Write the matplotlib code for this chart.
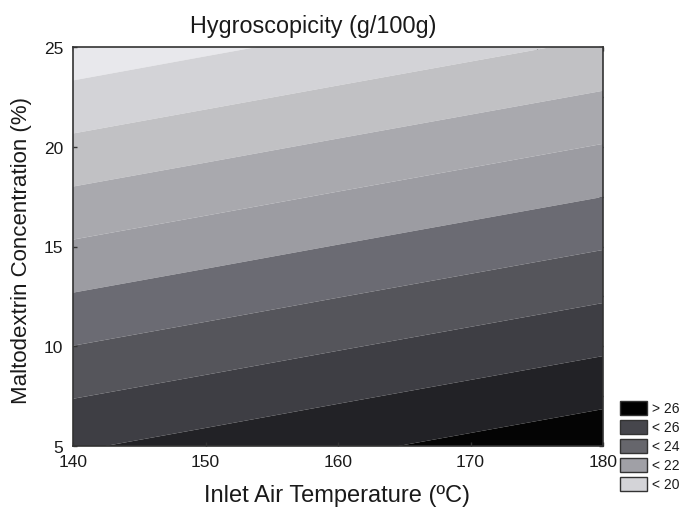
import matplotlib
matplotlib.use("Agg")
import matplotlib.pyplot as plt
from matplotlib.patches import Rectangle
from matplotlib.ticker import MultipleLocator
import numpy as np

plt.rcParams['font.family'] = ['Liberation Sans', 'DejaVu Sans']

# Inlet air temperature (ºC) grid and maltodextrin concentration (%) grid
temperature = [140, 150, 160, 170, 180]
maltodextrin = [5, 10, 15, 20, 25]
# Hygroscopicity (g/100g), rows = maltodextrin, cols = temperature
hyg_m5 = [23.78, 24.68, 25.59, 26.49, 27.39]
hyg_m10 = [20.02, 20.92, 21.83, 22.73, 23.63]
hyg_m15 = [16.26, 17.16, 18.07, 18.97, 19.87]
hyg_m20 = [12.50, 13.40, 14.31, 15.21, 16.11]
hyg_m25 = [8.74, 9.65, 10.55, 11.45, 12.35]

levels = [0, 10, 12, 14, 16, 18, 20, 22, 24, 26, 40]
band_colors = ['#e8e8ec', '#d3d3d7', '#c1c1c4', '#a9a9ae', '#9c9ca2',
               '#6b6b73', '#55555b', '#3e3e44', '#222226', '#040404']

legend_labels = ['> 26', '< 26', '< 24', '< 22', '< 20']
legend_colors = ['#000000', '#46464c', '#66666c', '#a0a0a6', '#d4d4d8']

Z = np.array([hyg_m5, hyg_m10, hyg_m15, hyg_m20, hyg_m25])
X, Y = np.meshgrid(temperature, maltodextrin)

fig = plt.figure(figsize=(6.81, 5.10), dpi=100)
ax = fig.add_axes([73/681, 1 - 447/510, 530/681, 399/510])
ax.contourf(X, Y, Z, levels=levels, colors=band_colors, antialiased=True)
ax.set_xlim(140, 180)
ax.set_ylim(5, 25)

for s in ax.spines.values():
    s.set_color('#333333')
    s.set_linewidth(1.2)

ax.xaxis.set_major_locator(MultipleLocator(10))
ax.yaxis.set_major_locator(MultipleLocator(5))
ax.tick_params(which='both', direction='in', length=3, width=1, color='#333333',
               labelsize=12.5, labelcolor='#1a1a1a')
ax.tick_params(axis='x', pad=6)
ax.tick_params(axis='y', pad=7)
ax.tick_params(top=False, right=False)
# secondary axes for the top / right tick marks (major + minor)
axt = ax.secondary_xaxis('top')
axt.xaxis.set_major_locator(MultipleLocator(5))
axt.tick_params(direction='in', length=3, width=1, color='#333333', labeltop=False)
axr = ax.secondary_yaxis('right')
axr.yaxis.set_major_locator(MultipleLocator(2.5))
axr.tick_params(direction='in', length=3, width=1, color='#333333', labelright=False)
for a in (axt, axr):
    for s in a.spines.values():
        s.set_visible(False)

fig.text(313/681, 1 - 26/510, 'Hygroscopicity (g/100g)', ha='center', va='center',
         fontsize=16.8, color='#1a1a1a')
fig.text(337/681, 1 - 496/510, 'Inlet Air Temperature (ºC)', ha='center', va='center',
         fontsize=17, color='#1a1a1a')
fig.text(22/681, 1 - 250/510, 'Maltodextrin Concentration (%)', ha='center', va='center',
         rotation=90, fontsize=16, color='#1a1a1a')

# legend
sw_x, sw_w, sw_h = 620, 27, 14
for i, (lab, col) in enumerate(zip(legend_labels, legend_colors)):
    top = 402 + i * 19
    fig.patches.append(Rectangle((sw_x/681, 1 - (top + sw_h)/510), sw_w/681, sw_h/510,
                                 transform=fig.transFigure, facecolor=col,
                                 edgecolor='#333333', linewidth=1))
    fig.text(652/681, 1 - (top + sw_h/2)/510, lab, ha='left', va='center',
             fontsize=10, color='#1a1a1a')

fig.savefig('out.png', dpi=100)
